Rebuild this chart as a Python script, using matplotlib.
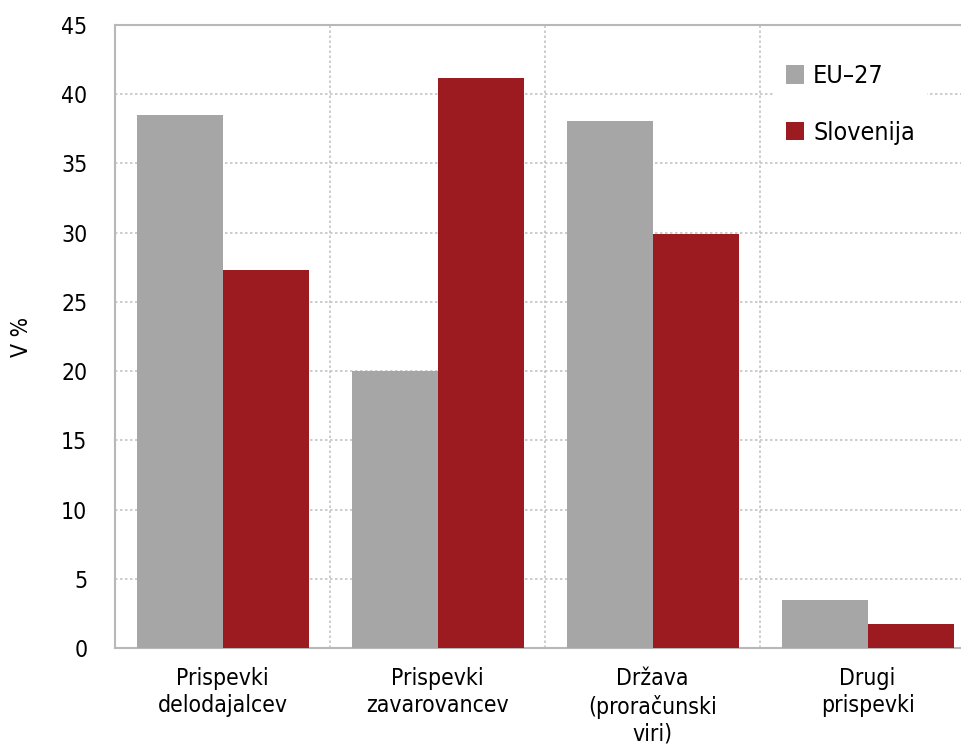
import numpy as np
import matplotlib
matplotlib.use("Agg")
import matplotlib.pyplot as plt

plt.rcParams['font.family'] = ['DejaVu Sans']
plt.rcParams['font.stretch'] = 'condensed'

categories = ["Prispevki\ndelodajalcev", "Prispevki\nzavarovancev",
              "Država\n(proračunski\nviri)", "Drugi\nprispevki"]
eu27 = [38.5, 20.0, 38.1, 3.5]
slovenija = [27.3, 41.2, 29.9, 1.7]

grey = "#a6a6a6"
red = "#9b1b20"
grid_col = "#c4c4c4"

fig = plt.figure(figsize=(9.61, 7.49), dpi=100)
ax = fig.add_axes([0.1197, 0.1348, 0.895, 0.8318])

x = np.arange(len(categories)) + 0.5
w = 0.4
ax.bar(x - w / 2, eu27, width=w, color=grey, label="EU\u201327", zorder=3)
ax.bar(x + w / 2, slovenija, width=w, color=red, label="Slovenija", zorder=3)

ax.set_xlim(0, 4)
ax.set_ylim(0, 45)
ax.set_yticks(range(0, 46, 5))
ax.set_xticks(x)
ax.set_xticklabels(categories, fontsize=16.5, linespacing=1.22)
ax.tick_params(axis='y', length=0, pad=20, labelsize=16.5)
ax.tick_params(axis='x', length=0, pad=14)

# dotted grid: horizontal at ticks, vertical between categories
for yv in range(5, 45, 5):
    ax.axhline(yv, color=grid_col, lw=1.2, ls=(0, (1.5, 1.5)), zorder=1)
for xv in [1, 2, 3]:
    ax.axvline(xv, color=grid_col, lw=1.2, ls=(0, (1.5, 1.5)), zorder=1)

for s in ['left', 'top', 'bottom']:
    ax.spines[s].set_color("#b8b8b8")
    ax.spines[s].set_linewidth(1.5)
ax.spines['right'].set_visible(False)

ax.set_ylabel("V %", fontsize=16.5, labelpad=20)

leg = ax.legend(loc='upper left', bbox_to_anchor=(0.752, 0.975), frameon=True,
                fontsize=18, handlelength=0.75, handleheight=0.75,
                handletextpad=0.35, labelspacing=1.3, borderpad=0.45)
leg.get_frame().set_edgecolor('white')
leg.get_frame().set_facecolor('white')
leg.get_frame().set_alpha(1)
leg.set_zorder(5)

fig.savefig("out.png", dpi=100)
